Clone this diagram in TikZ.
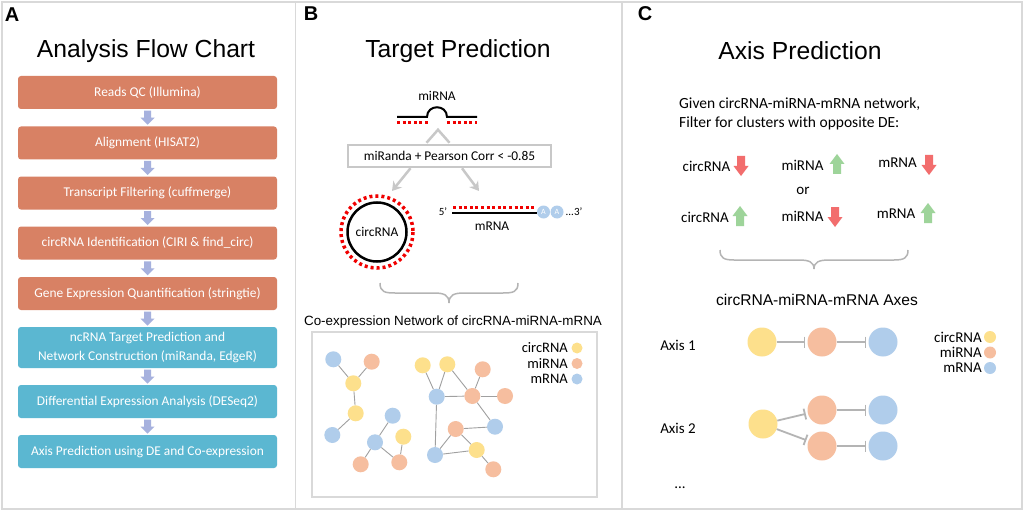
\documentclass[tikz,border=0pt]{standalone}
\usepackage{fontspec}
\setmainfont{Carlito}
\newfontfamily\arialf{Liberation Sans}
\usetikzlibrary{arrows.meta,calc}
\definecolor{boxor}{HTML}{D88164}
\definecolor{boxbl}{HTML}{5BB7D1}
\definecolor{flowar}{HTML}{A6B1DE}
\definecolor{cy}{HTML}{FDE08C}
\definecolor{co}{HTML}{F6BE9F}
\definecolor{cb}{HTML}{B0CDEB}
\definecolor{upg}{HTML}{9ED49A}
\definecolor{dnr}{HTML}{F26D6D}
\definecolor{framec}{HTML}{D9D9D9}
\definecolor{boxgray}{HTML}{C8C8C8}
\definecolor{edgeg}{HTML}{A0A0A0}
\definecolor{inhg}{HTML}{B4B4B4}
\definecolor{dotred}{HTML}{F00000}
\newcommand\fsz[2]{\fontsize{#1}{#2}\selectfont}
\tikzset{
  flowbox/.style={rectangle, rounded corners=3pt, minimum width=259pt, minimum height=33pt,
    text=white, font=\fsz{13.4}{19}, align=center, inner sep=0pt},
  ttl/.style={font=\arialf\fsz{24.7}{28}},
  plabel/.style={font=\arialf\bfseries\fsz{20}{22}},
  lbl/.style={font=\fsz{13.4}{16}, inner sep=0pt},
  lblc/.style={font=\fsz{15}{18}, inner sep=0pt},
  nnode/.style={circle, fill=#1, minimum size=16pt, inner sep=0pt},
  anode/.style={circle, fill=#1, minimum size=29pt, inner sep=0pt},
  legdot/.style={circle, fill=#1, minimum size=11pt, inner sep=0pt},
  netedge/.style={draw=edgeg, line width=0.9pt},
  inh/.style={draw=inhg, line width=1.8pt, -{Bar[width=11pt,line width=1.8pt]}, shorten >=2pt},
  garrow/.style={draw=boxgray, line width=2.5pt, -{Stealth[length=9pt,width=11pt]}},
  bracestyle/.style={draw=inhg, line width=1.5pt},
  pics/dnblock/.style={code={\fill[#1] (-4,-10) -- (4,-10) -- (4,0) -- (7.5,0) -- (0,10) -- (-7.5,0) -- (-4,0) -- cycle;}},
  pics/upblock/.style={code={\fill[#1] (-4,10) -- (4,10) -- (4,0) -- (7.5,0) -- (0,-10) -- (-7.5,0) -- (-4,0) -- cycle;}},
  pics/flowdn/.style={code={\fill[flowar] (-3.5,-7) -- (3.5,-7) -- (3.5,0) -- (7,0) -- (0,7) -- (-7,0) -- (-3.5,0) -- cycle;}},
}
\begin{document}
\begin{tikzpicture}[x=1pt,y=-1pt]
\useasboundingbox (0,0) rectangle (1024,513);
\fill[white] (0,0) rectangle (1024,513);
% frame
\draw[framec, line width=1.5pt] (2,2) rectangle (1022,509);
\draw[framec, line width=1.5pt] (295.5,2) -- (295.5,509);
\draw[framec, line width=1.5pt] (622,2) -- (622,509);

% panel labels and titles
\node[plabel] (labA) at (12,15) {A};
\node[plabel] (labB) at (311,14) {B};
\node[plabel] (labC) at (645,14) {C};
\node[ttl] (tA) at (146,51) {Analysis Flow Chart};
\node[ttl] (tB) at (458,51) {Target Prediction};
\node[ttl] (tC) at (800,51) {Axis Prediction};

% ---------- Panel A ----------
\node[flowbox, fill=boxor] (f1) at (147.5,92.5) {Reads QC (Illumina)};
\node[flowbox, fill=boxor] (f2) at (147.5,143) {Alignment (HISAT2)};
\node[flowbox, fill=boxor] (f3) at (147.5,193) {Transcript Filtering (cuffmerge)};
\node[flowbox, fill=boxor] (f4) at (147.5,243) {circRNA Identification (CIRI \& find\_circ)};
\node[flowbox, fill=boxor] (f5) at (147.5,293.5) {Gene Expression Quantification (stringtie)};
\node[flowbox, fill=boxbl, minimum height=41pt] (f6) at (147.5,347.5) {ncRNA Target Prediction and\\Network Construction (miRanda, EdgeR)};
\node[flowbox, fill=boxbl] (f7) at (147.5,401.5) {Differential Expression Analysis (DESeq2)};
\node[flowbox, fill=boxbl] (f8) at (147.5,451.5) {Axis Prediction using DE and Co-expression};
\foreach \a/\b in {f1/f2,f2/f3,f3/f4,f4/f5,f5/f6,f6/f7,f7/f8}
  \pic at ($(\a.south)!0.5!(\b.north)$) {flowdn};

% ---------- Panel B ----------
\node[lbl] (mirlab) at (437,96) {miRNA};
\coordinate (mirL) at (397,117);
\coordinate (mirR) at (477,117);
\draw[line width=2pt] (mirL) -- (427,117) .. controls (427,104) and (447,104) .. (447,117) -- (mirR);
\draw[dotred, line width=3pt, dash pattern=on 3pt off 2.6pt] (397,122.5) -- (428,122.5);
\draw[dotred, line width=3pt, dash pattern=on 3pt off 2.6pt] (447,122.5) -- (477,122.5);

\node[draw=boxgray, line width=2.5pt, minimum width=203pt, minimum height=22pt, inner sep=0pt,
      font=\fsz{13.4}{16}] (mbox) at (449.5,156) {miRanda + Pearson Corr < -0.85};
\draw[boxgray, line width=2.5pt, line join=miter] ($(mbox.north)+(-23,-1)$) -- ($(mbox.north)+(-11.5,-14)$) -- ($(mbox.north)+(0,-1)$);

% circRNA
\node[circle, draw=black, line width=2.5pt, minimum size=59pt, inner sep=0pt, font=\fsz{13.4}{16}] (circ) at (377,232) {circRNA};
\draw[dotred, line width=3.5pt, dash pattern=on 3pt off 3pt] (circ.center) circle[radius=36];
% mRNA
\coordinate (m5) at (452,213);
\coordinate (m3) at (537,213);
\draw[line width=2pt] (m5) -- (m3);
\draw[dotred, line width=3pt, dash pattern=on 3pt off 2.6pt] (453,207) -- (537,207);
\node[font=\fsz{11}{13}, inner sep=0pt] (fp) at (443,212) {5'};
\node[circle, fill=cb, minimum size=13pt, inner sep=0pt, text=white, font=\fsz{8}{9}] (pa1) at (543.5,212) {A};
\node[circle, fill=cb, minimum size=13pt, inner sep=0pt, text=white, font=\fsz{8}{9}] (pa2) at (557,212) {A};
\node[font=\fsz{11}{13}, inner sep=0pt] (tp) at (574,212) {...3'};
\node[lbl] (mrnalab) at (492,226) {mRNA};

\coordinate (tipL) at (392,191);
\coordinate (tipR) at (479,191);
\draw[garrow] ($(mbox.south)+(-39,0)$) -- (tipL);
\draw[garrow] ($(mbox.south)+(12.5,0)$) -- (tipR);

% brace B
\draw[bracestyle] (380,283) .. controls (380,292) and (385,293) .. (395,293) -- (434,293)
  .. controls (444,293) and (449,295) .. (449,303) .. controls (449,295) and (454,293) .. (464,293)
  -- (503,293) .. controls (513,293) and (518,292) .. (518,283);

\node[font=\arialf\fsz{13.4}{16}] (cotitle) at (453,322) {Co-expression Network of circRNA-miRNA-mRNA};
\draw[framec, line width=2pt] (312,332) rectangle (597,497);

% network nodes
\node[nnode=cb] (n1) at (333.3,359.3) {};
\node[nnode=co] (n2) at (371.7,361.7) {};
\node[nnode=cy] (n3) at (353.3,383.3) {};
\node[nnode=cy] (n4) at (355.7,413.3) {};
\node[nnode=cb] (n5) at (332.3,435) {};
\node[nnode=cb] (n6) at (392.7,415.7) {};
\node[nnode=cy] (n7) at (403.3,436.7) {};
\node[nnode=cb] (n8) at (375,442.3) {};
\node[nnode=co] (n9) at (360.7,464.3) {};
\node[nnode=co] (n10) at (399.3,462.3) {};
\node[nnode=cy] (n11) at (422.7,365.3) {};
\node[nnode=cy] (n12) at (447.3,364.3) {};
\node[nnode=co] (n13) at (482.7,369.3) {};
\node[nnode=cb] (n14) at (436.7,396.7) {};
\node[nnode=co] (n15) at (472.3,396) {};
\node[nnode=co] (n16) at (505,396) {};
\node[nnode=co] (n17) at (455.7,429) {};
\node[nnode=cb] (n18) at (495,426.7) {};
\node[nnode=cy] (n19) at (476.7,450) {};
\node[nnode=cb] (n20) at (435,455) {};
\node[nnode=co] (n21) at (493.3,469.3) {};
\foreach \a/\b in {n1/n3,n2/n3,n3/n4,n4/n5,n6/n8,n8/n9,n8/n10,n7/n10,
  n11/n14,n12/n14,n12/n15,n13/n15,n14/n15,n15/n16,n15/n18,n17/n18,n14/n20,n17/n20,n20/n19,n17/n19,n19/n21}
  \draw[netedge] (\a) -- (\b);

% legend B
\node[font=\fsz{14.5}{16}, inner sep=0pt, anchor=east] (lb1) at (568,348) {circRNA};
\node[font=\fsz{14.5}{16}, inner sep=0pt, anchor=east] (lb2) at (568,363.5) {miRNA};
\node[font=\fsz{14.5}{16}, inner sep=0pt, anchor=east] (lb3) at (568,379) {mRNA};
\node[legdot=cy] (ld1) at (577,348) {};
\node[legdot=co] (ld2) at (577,363.5) {};
\node[legdot=cb] (ld3) at (577,379) {};

% ---------- Panel C ----------
\node[font=\fsz{15.5}{19}, align=left, anchor=west, inner sep=0pt] (given) at (679,113.5)
  {Given circRNA-miRNA-mRNA network,\\Filter for clusters with opposite DE:};

\node[lblc] (r1a) at (706.5,166) {circRNA};
\node[lblc] (r1b) at (802.5,165) {miRNA};
\node[lblc] (r1c) at (897.5,163) {mRNA};
\pic at (741,166) {dnblock=dnr};
\pic at (837,164) {upblock=upg};
\pic at (929,165) {dnblock=dnr};
\node[lblc] (oror) at (803,191) {or};
\node[lblc] (r2a) at (705,217) {circRNA};
\node[lblc] (r2b) at (802.5,216) {miRNA};
\node[lblc] (r2c) at (896,214) {mRNA};
\pic at (740,216) {upblock=upg};
\pic at (835,217) {dnblock=dnr};
\pic at (928,213) {upblock=upg};

% brace C
\draw[bracestyle] (720,250) .. controls (720,258) and (724,260) .. (734,260) -- (799,260)
  .. controls (809,260) and (814,262) .. (814,269) .. controls (814,262) and (819,260) .. (829,260)
  -- (894,260) .. controls (904,260) and (908,258) .. (908,250);

\node[font=\arialf\fsz{15.6}{18}] (axtitle) at (817,300) {circRNA-miRNA-mRNA Axes};

\node[lblc] (ax1lab) at (678,345) {Axis 1};
\node[anode=cy] (a1y) at (762,342) {};
\node[anode=co] (a1o) at (822,342) {};
\node[anode=cb] (a1b) at (883,342) {};
\draw[inh] (a1y) -- (a1o);
\draw[inh] (a1o) -- (a1b);

\node[lblc] (ax2lab) at (678,428) {Axis 2};
\node[anode=cy] (a2y) at (763,424) {};
\node[anode=co] (a2o1) at (822,410) {};
\node[anode=co] (a2o2) at (822,446) {};
\node[anode=cb] (a2b1) at (883,410) {};
\node[anode=cb] (a2b2) at (883,446) {};
\draw[inh] (a2y) -- (a2o1);
\draw[inh] (a2y) -- (a2o2);
\draw[inh] (a2o1) -- (a2b1);
\draw[inh] (a2o2) -- (a2b2);

\node[lblc] (dots) at (680,488) {...};

% legend C
\node[lblc, anchor=east] (lc1) at (982,337) {circRNA};
\node[lblc, anchor=east] (lc2) at (982,352.5) {miRNA};
\node[lblc, anchor=east] (lc3) at (982,368) {mRNA};
\node[legdot=cy, minimum size=12pt] (lcd1) at (990,337) {};
\node[legdot=co, minimum size=12pt] (lcd2) at (990,352.5) {};
\node[legdot=cb, minimum size=12pt] (lcd3) at (990,368) {};
\end{tikzpicture}
\end{document}
